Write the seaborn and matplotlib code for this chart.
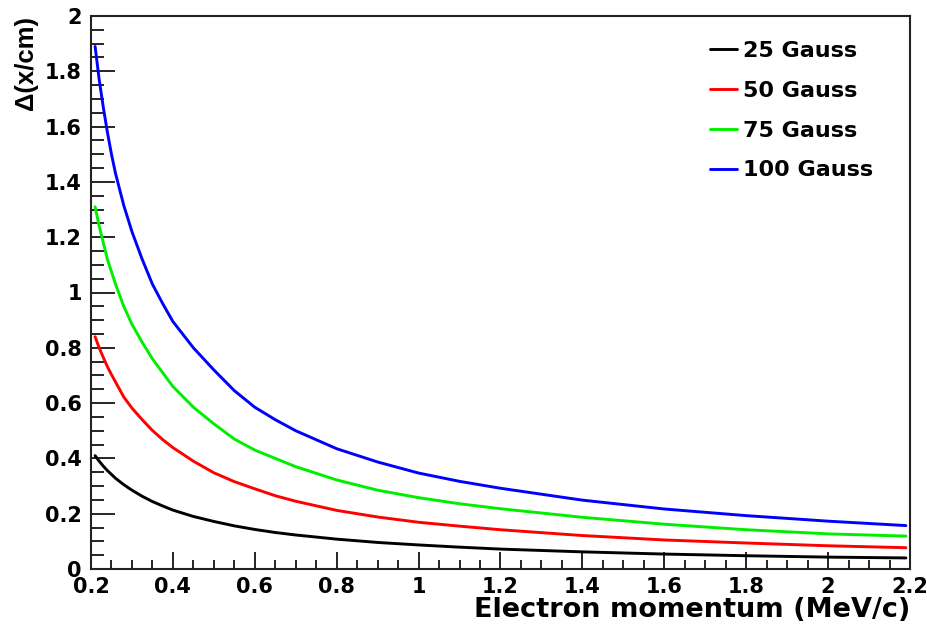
import numpy as np
import pandas as pd
import matplotlib
matplotlib.use("Agg")
import matplotlib.pyplot as plt
import seaborn as sns
from matplotlib.ticker import MultipleLocator
from matplotlib.lines import Line2D

# momentum grid (MeV/c)
momentum = [0.21, 0.22, 0.23, 0.24, 0.25, 0.26, 0.28, 0.30, 0.325, 0.35, 0.375,
            0.40, 0.45, 0.50, 0.55, 0.60, 0.65, 0.70, 0.80, 0.90, 1.0, 1.1,
            1.2, 1.4, 1.6, 1.8, 2.0, 2.19]
# displacement (cm) for each field
dx_25 = [0.41, 0.39, 0.372, 0.356, 0.342, 0.328, 0.305, 0.285, 0.263, 0.244, 0.228,
         0.213, 0.19, 0.172, 0.156, 0.143, 0.132, 0.123, 0.108, 0.096, 0.087, 0.079,
         0.072, 0.062, 0.054, 0.048, 0.043, 0.040]
dx_50 = [0.84, 0.80, 0.765, 0.732, 0.703, 0.676, 0.622, 0.582, 0.54, 0.501, 0.468,
         0.439, 0.39, 0.348, 0.316, 0.29, 0.265, 0.245, 0.212, 0.188, 0.169, 0.155,
         0.142, 0.121, 0.105, 0.094, 0.084, 0.077]
dx_75 = [1.31, 1.24, 1.18, 1.12, 1.075, 1.03, 0.95, 0.885, 0.82, 0.76, 0.71,
         0.66, 0.585, 0.525, 0.47, 0.43, 0.40, 0.37, 0.322, 0.285, 0.258, 0.236,
         0.218, 0.187, 0.162, 0.142, 0.127, 0.119]
dx_100 = [1.89, 1.77, 1.67, 1.58, 1.50, 1.43, 1.315, 1.22, 1.12, 1.03, 0.96,
          0.895, 0.80, 0.72, 0.645, 0.585, 0.54, 0.50, 0.435, 0.387, 0.347, 0.317,
          0.292, 0.249, 0.217, 0.193, 0.173, 0.157]

series_names = ["25 Gauss", "50 Gauss", "75 Gauss", "100 Gauss"]
series_vals = [dx_25, dx_50, dx_75, dx_100]
colors = ["#000000", "#ff0000", "#00ee00", "#0000ff"]

x_ticks = [0.2, 0.4, 0.6, 0.8, 1.0, 1.2, 1.4, 1.6, 1.8, 2.0, 2.2]
x_ticklabels = ["0.2", "0.4", "0.6", "0.8", "1", "1.2", "1.4", "1.6", "1.8", "2", "2.2"]
y_ticks = [0, 0.2, 0.4, 0.6, 0.8, 1.0, 1.2, 1.4, 1.6, 1.8, 2.0]
y_ticklabels = ["0", "0.2", "0.4", "0.6", "0.8", "1", "1.2", "1.4", "1.6", "1.8", "2"]

rows = []
for name, vals in zip(series_names, series_vals):
    for p, v in zip(momentum, vals):
        rows.append({"p": p, "dx": v, "field": name})
df = pd.DataFrame(rows)

sns.set_theme(style="white")
plt.rcParams["font.family"] = ["DejaVu Sans"]
plt.rcParams["font.weight"] = "bold"
plt.rcParams["text.color"] = "black"
plt.rcParams["axes.labelcolor"] = "black"
plt.rcParams["xtick.color"] = "black"
plt.rcParams["ytick.color"] = "black"

fig = plt.figure(figsize=(9.28, 6.30), dpi=100)
ax = fig.add_axes([91/928, 61/630, (910-91)/928, (569-16)/630])

sns.lineplot(data=df, x="p", y="dx", hue="field", hue_order=series_names,
             palette=colors, linewidth=2.1, ax=ax, legend=False, sort=True)

ax.set_xlim(0.2, 2.2)
ax.set_ylim(0, 2)
ax.set_xticks(x_ticks)
ax.set_xticklabels(x_ticklabels, fontsize=15, fontweight="bold", color="black")
ax.set_yticks(y_ticks)
ax.set_yticklabels(y_ticklabels, fontsize=15, fontweight="bold", color="black")
ax.xaxis.set_minor_locator(MultipleLocator(0.05))
ax.yaxis.set_minor_locator(MultipleLocator(0.05))
ax.tick_params(axis="x", which="major", direction="in", length=12, width=1.2,
               pad=6, bottom=True, top=False, colors="black")
ax.tick_params(axis="x", which="minor", direction="in", length=6.5, width=1.2,
               bottom=True, top=False, colors="black")
ax.tick_params(axis="y", which="major", direction="in", length=17, width=1.2,
               pad=6.5, left=True, right=False, colors="black")
ax.tick_params(axis="y", which="minor", direction="in", length=9, width=1.2,
               left=True, right=False, colors="black")
for s in ax.spines.values():
    s.set_visible(True)
    s.set_color("#222222")
    s.set_linewidth(1.5)

ax.set_xlabel("Electron momentum (MeV/c)", fontsize=19.5, fontweight="bold",
              loc="right", labelpad=0, color="black")
ax.set_ylabel("Δ(x/cm)", fontsize=18.5, fontweight="bold", loc="top",
              labelpad=5, family=["Liberation Sans", "DejaVu Sans"], color="black")

handles = [Line2D([0], [0], color=c, lw=2.1) for c in colors]
leg = ax.legend(handles, series_names, loc="upper left", frameon=False,
                bbox_to_anchor=(710/928, (630-41)/630), bbox_transform=fig.transFigure,
                borderpad=0, borderaxespad=0,
                handlelength=1.2, handletextpad=0.3,
                labelspacing=0.89, prop={"size": 16, "weight": "bold"})
for t in leg.get_texts():
    t.set_color("black")

fig.savefig("out.png", dpi=100, facecolor="white")
